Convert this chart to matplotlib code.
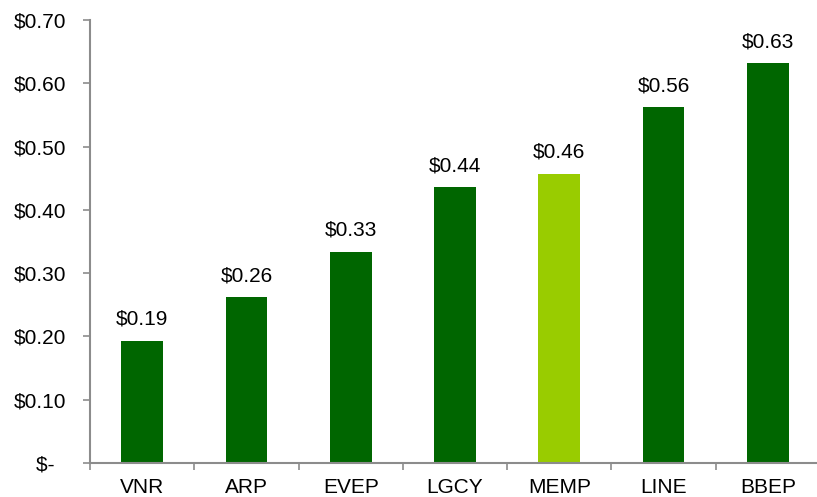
import matplotlib.pyplot as plt
from matplotlib.ticker import FuncFormatter, MultipleLocator, FixedLocator
import numpy as np

plt.rcParams['font.family'] = ['Liberation Sans', 'DejaVu Sans']

# Data
tickers = ['VNR', 'ARP', 'EVEP', 'LGCY', 'MEMP', 'LINE', 'BBEP']
values = [0.193, 0.262, 0.334, 0.436, 0.457, 0.562, 0.632]
highlight = 'MEMP'

dark_green = '#006600'
light_green = '#99CC00'
axis_gray = '#8c8c8c'

fig = plt.figure(figsize=(8.17, 4.97), dpi=100)
ax = fig.add_axes([90 / 817, 34 / 497, 730 / 817, 443 / 497])

x = np.arange(len(tickers))
colors = [light_green if t == highlight else dark_green for t in tickers]
ax.bar(x, values, width=0.4, color=colors)

# value labels above bars
for xi, v in zip(x, values):
    ax.annotate(f'${v:.2f}', (xi, v), xytext=(0, 11.5), textcoords='offset points',
                ha='center', va='baseline', fontsize=15, color='black')

ax.set_xlim(-0.5, len(tickers) - 0.5)
ax.set_ylim(0, 0.70)
ax.yaxis.set_major_locator(MultipleLocator(0.1))
# accounting style: zero shown as "$-" with trailing padding
ax.yaxis.set_major_formatter(FuncFormatter(lambda v, p: '$-  ' if abs(v) < 1e-9 else f'${v:.2f}'))

# category labels centred, tick marks at the boundaries
ax.set_xticks(x)
ax.set_xticklabels(tickers)
ax.xaxis.set_minor_locator(FixedLocator(np.arange(len(tickers) + 1) - 0.5))
ax.tick_params(axis='x', which='major', length=0, pad=10.5, labelsize=15)
ax.tick_params(axis='x', which='minor', length=5, width=1.2, color=axis_gray, direction='out')
ax.tick_params(axis='y', length=5, width=1.2, color=axis_gray, direction='out', pad=12, labelsize=15)

for side in ['top', 'right']:
    ax.spines[side].set_visible(False)
for side in ['left', 'bottom']:
    ax.spines[side].set_color(axis_gray)
    ax.spines[side].set_linewidth(1.5)

fig.savefig('out.png', dpi=100)
